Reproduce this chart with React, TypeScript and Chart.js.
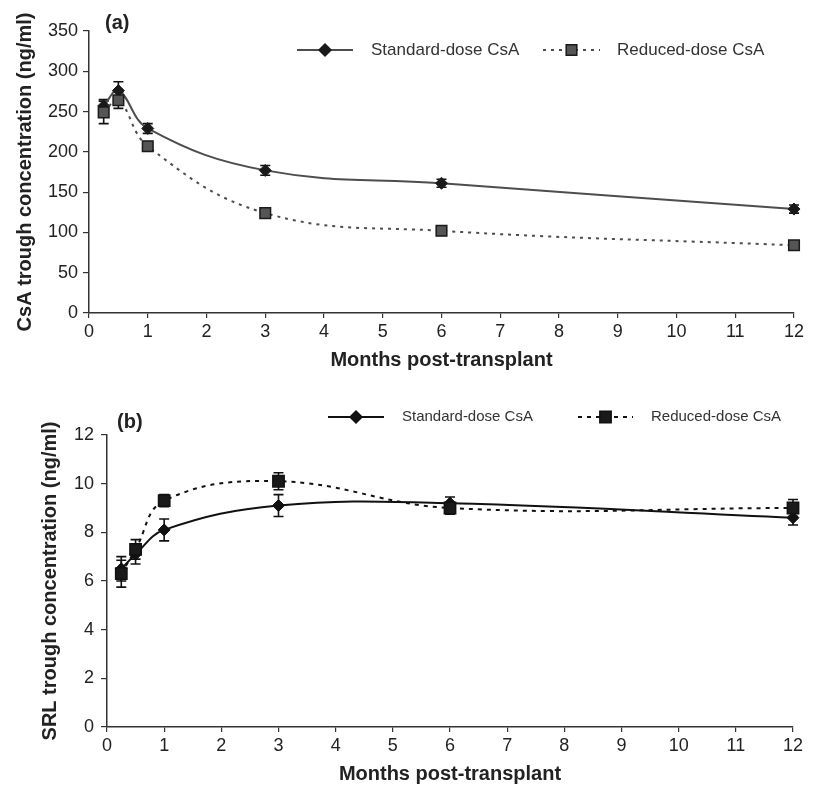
import React, { useEffect, useRef } from "react";
import { Chart, registerables } from "chart.js";

Chart.register(...registerables);

// ---- data ----
const months = [0.25, 0.5, 1, 3, 6, 12];

const csaStandard = [257, 276, 229, 177, 161, 129];
const csaStandardErr = [8, 11, 6, 6, 5, 5];
const csaReduced = [249, 264, 207, 124, 102, 84];
const csaReducedErr = [14, 10, 4, 3, 3, 3];

const srlStandard = [6.5, 7.1, 8.1, 9.1, 9.2, 8.6];
const srlStandardErr = [0.5, 0.4, 0.45, 0.45, 0.25, 0.3];
const srlReduced = [6.3, 7.3, 9.3, 10.1, 9.0, 9.0];
const srlReducedErr = [0.55, 0.4, 0.25, 0.35, 0.25, 0.35];

const seriesNames = ["Standard-dose CsA", "Reduced-dose CsA"];
const xTitle = "Months post-transplant";
const csaTitle = "CsA trough concentration (ng/ml)";
const srlTitle = "SRL trough concentration (ng/ml)";

const FONT = "'Liberation Sans', Arial, sans-serif";

const toPoints = (ys: number[]) => months.map((m, i) => ({ x: m, y: ys[i] }));

const errorBarPlugin = {
  id: "errorBars",
  beforeDatasetsDraw(chart: any) {
    const ctx = chart.ctx;
    const yScale = chart.scales.y;
    ctx.save();
    chart.data.datasets.forEach((ds: any, i: number) => {
      const meta = chart.getDatasetMeta(i);
      if (!ds.errors) return;
      meta.data.forEach((pt: any, j: number) => {
        const v = ds.data[j].y;
        const e = ds.errors[j];
        const x = pt.x;
        const yt = yScale.getPixelForValue(v + e);
        const yb = yScale.getPixelForValue(v - e);
        ctx.strokeStyle = "#111";
        ctx.lineWidth = 1.6;
        ctx.setLineDash([]);
        ctx.beginPath();
        ctx.moveTo(x, yt);
        ctx.lineTo(x, yb);
        ctx.moveTo(x - 5, yt);
        ctx.lineTo(x + 5, yt);
        ctx.moveTo(x - 5, yb);
        ctx.lineTo(x + 5, yb);
        ctx.stroke();
      });
    });
    ctx.restore();
  },
};

function drawMarker(ctx: any, style: string, x: number, y: number, r: number, fill: string, border: string) {
  ctx.save();
  ctx.setLineDash([]);
  ctx.fillStyle = fill;
  ctx.strokeStyle = border;
  ctx.lineWidth = 1.5;
  ctx.beginPath();
  if (style === "rectRot") {
    ctx.moveTo(x - r, y);
    ctx.lineTo(x, y - r);
    ctx.lineTo(x + r, y);
    ctx.lineTo(x, y + r);
    ctx.closePath();
  } else {
    const s = r * Math.SQRT1_2;
    ctx.rect(x - s, y - s, 2 * s, 2 * s);
  }
  ctx.fill();
  ctx.stroke();
  ctx.restore();
}

const customLegendPlugin = {
  id: "customLegend",
  afterDraw(chart: any, _args: any, opts: any) {
    const ctx = chart.ctx;
    ctx.save();
    chart.data.datasets.forEach((ds: any, i: number) => {
      const it = opts.items[i];
      ctx.strokeStyle = ds.borderColor;
      ctx.lineWidth = ds.borderWidth;
      ctx.setLineDash(ds.borderDash || []);
      ctx.beginPath();
      ctx.moveTo(it.x0, opts.y);
      ctx.lineTo(it.x1, opts.y);
      ctx.stroke();
      drawMarker(ctx, ds.pointStyle, (it.x0 + it.x1) / 2, opts.y, ds.pointRadius, ds.pointBackgroundColor, ds.pointBorderColor);
      ctx.fillStyle = "#333";
      ctx.font = `${opts.fontSize}px ${FONT}`;
      ctx.textBaseline = "middle";
      ctx.textAlign = "left";
      ctx.fillText(ds.label, it.tx, opts.y);
    });
    // panel label
    ctx.fillStyle = "#222";
    ctx.font = `bold 20px ${FONT}`;
    ctx.textBaseline = "middle";
    ctx.fillText(opts.panel, opts.panelX, opts.panelY);
    ctx.restore();
  },
};

function PanelChart(props: any) {
  const ref = useRef<HTMLCanvasElement | null>(null);
  useEffect(() => {
    if (!ref.current) return;
    const p = props.cfg;
    const chart = new Chart(ref.current, {
      type: "line",
      data: {
        datasets: [
          {
            label: seriesNames[0],
            data: toPoints(p.std),
            errors: p.stdErr,
            borderColor: p.stdLine,
            borderWidth: 2,
            tension: 0.4,
            clip: false,
            pointStyle: "rectRot",
            pointRadius: p.diamondR,
            pointBackgroundColor: p.stdMarker,
            pointBorderColor: p.stdMarker,
            pointBorderWidth: 1,
            order: 1,
          } as any,
          {
            label: seriesNames[1],
            data: toPoints(p.red),
            errors: p.redErr,
            borderColor: p.redLine,
            borderWidth: 2,
            borderDash: p.dash,
            tension: 0.4,
            clip: false,
            pointStyle: "rect",
            pointRadius: p.squareR,
            pointBackgroundColor: p.redFill,
            pointBorderColor: p.redBorder,
            pointBorderWidth: 1.5,
            order: 0,
          } as any,
        ],
      },
      options: {
        animation: false,
        responsive: false,
        maintainAspectRatio: false,
        devicePixelRatio: 1,
        layout: { padding: { top: p.padTop, right: p.padRight, left: 0, bottom: 0 } },
        plugins: {
          legend: { display: false },
          tooltip: { enabled: false },
          customLegend: p.legend,
        } as any,
        scales: {
          x: {
            type: "linear",
            min: 0,
            max: 12,
            afterFit: (s: any) => {
              s.height = p.xHeight;
            },
            ticks: { stepSize: 1, color: "#222", padding: 3, font: { family: FONT, size: 18 } },
            grid: { drawOnChartArea: false, drawTicks: true, tickLength: 5, color: "#333", lineWidth: 1.2 },
            border: { color: "#333", width: 1.5 },
            title: {
              display: true,
              text: xTitle,
              color: "#222",
              font: { family: FONT, size: 20, weight: "bold" },
              padding: { top: 0, bottom: p.xTitlePadBottom },
            },
          },
          y: {
            min: 0,
            max: p.yMax,
            afterFit: (s: any) => {
              s.width = p.yWidth;
            },
            ticks: { stepSize: p.yStep, color: "#222", padding: p.yTickPad, font: { family: FONT, size: 18 } },
            grid: { drawOnChartArea: false, drawTicks: true, tickLength: 6, color: "#333", lineWidth: 1.2 },
            border: { color: "#333", width: 1.5 },
            title: {
              display: true,
              text: p.yTitle,
              color: "#222",
              font: { family: FONT, size: 20, weight: "bold" },
              padding: { top: p.yTitlePadTop, bottom: 0 },
            },
          },
        },
      } as any,
      plugins: [errorBarPlugin, customLegendPlugin],
    });
    return () => chart.destroy();
  }, []);
  return (
    <canvas
      ref={ref}
      width={838}
      height={props.height}
      style={{ position: "absolute", left: 0, top: props.top, width: 838, height: props.height, display: "block" }}
    />
  );
}

const topCfg = {
  std: csaStandard,
  stdErr: csaStandardErr,
  red: csaReduced,
  redErr: csaReducedErr,
  stdLine: "#4d4d4d",
  stdMarker: "#1a1a1a",
  redLine: "#4d4d4d",
  redFill: "#555555",
  redBorder: "#1a1a1a",
  dash: [3, 5],
  diamondR: 6,
  squareR: 7.5,
  yMax: 350,
  yStep: 50,
  yTitle: csaTitle,
  yWidth: 89,
  yTickPad: 5,
  yTitlePadTop: 13,
  padTop: 31,
  padRight: 44,
  xHeight: 61,
  xTitlePadBottom: 2,
  legend: {
    y: 50,
    fontSize: 17,
    items: [
      { x0: 297, x1: 353, tx: 371 },
      { x0: 543, x1: 600, tx: 617 },
    ],
    panel: "(a)",
    panelX: 105,
    panelY: 23,
  },
};

const bottomCfg = {
  std: srlStandard,
  stdErr: srlStandardErr,
  red: srlReduced,
  redErr: srlReducedErr,
  stdLine: "#111111",
  stdMarker: "#111111",
  redLine: "#111111",
  redFill: "#1a1a1a",
  redBorder: "#111111",
  dash: [4, 5],
  diamondR: 6,
  squareR: 8,
  yMax: 12,
  yStep: 2,
  yTitle: srlTitle,
  yWidth: 107,
  yTickPad: 7,
  yTitlePadTop: 38,
  padTop: 61,
  padRight: 45,
  xHeight: 59,
  xTitlePadBottom: 0,
  legend: {
    y: 43,
    fontSize: 15,
    items: [
      { x0: 328, x1: 384, tx: 402 },
      { x0: 578, x1: 633, tx: 651 },
    ],
    panel: "(b)",
    panelX: 117,
    panelY: 48,
  },
};

export default function App() {
  return (
    <div style={{ position: "absolute", left: 0, top: 0, width: 838, height: 786, background: "#fff", overflow: "hidden" }}>
      <PanelChart cfg={topCfg} top={0} height={374} />
      <PanelChart cfg={bottomCfg} top={374} height={412} />
    </div>
  );
}
